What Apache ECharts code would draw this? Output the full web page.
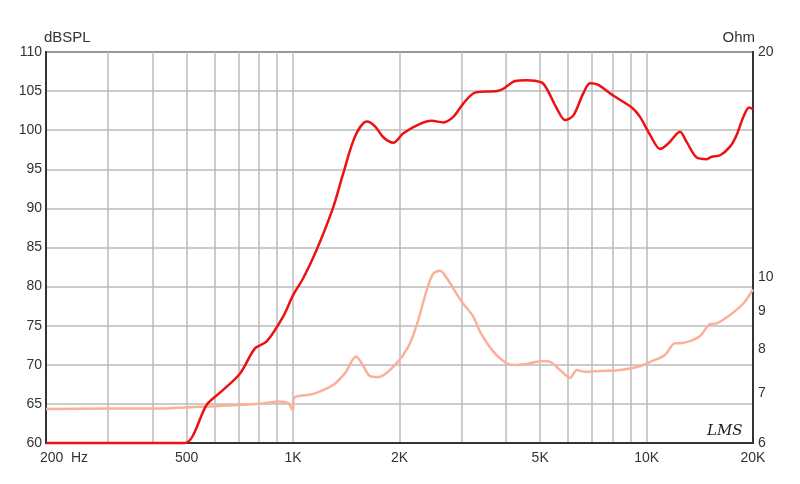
<!DOCTYPE html>
<html><head><meta charset="utf-8">
<script src="https://cdn.jsdelivr.net/npm/echarts@6/dist/echarts.min.js"></script>
<style>html,body{margin:0;padding:0;background:#fff}#c{width:800px;height:484px}</style>
</head><body><div id="c"></div>
<script>
// Frequency response (dBSPL) — [Hz, dB]
const splData = [
 [200,60],[300,60],[400,60],[494,60],[570,64.9],[620,66.4],[708,68.9],[780,72.1],[842,73.0],
 [938,76.2],[1000,78.9],[1069,81.1],[1166,84.7],[1300,90.2],[1387,94.5],[1497,99.2],[1616,101.1],
 [1705,100.5],[1800,99.1],[1920,98.4],[2050,99.6],[2286,100.8],[2468,101.2],[2660,101.0],[2840,101.7],
 [3030,103.4],[3270,104.8],[3770,105.0],[3930,105.3],[4250,106.3],[4580,106.4],[5050,106.1],[5220,105.3],
 [5570,102.8],[5880,101.3],[6210,101.9],[6620,104.7],[6920,106.0],[7300,105.8],[8060,104.4],[9080,102.9],
 [9580,101.7],[10230,99.4],[10920,97.6],[11520,98.3],[12430,99.8],[12980,98.5],[13860,96.5],[14790,96.3],
 [15280,96.6],[16140,96.8],[17220,97.9],[17980,99.4],[18780,101.7],[19510,102.9],[20000,102.7]
];
// Impedance (Ohm) — [Hz, Ohm]
const impData = [
 [200,6.66],[300,6.67],[450,6.68],[600,6.72],[800,6.77],[918,6.82],[970,6.78],[998,6.64],[1005,6.89],
 [1141,6.98],[1300,7.18],[1402,7.44],[1507,7.83],[1564,7.67],[1651,7.37],[1742,7.35],[1942,7.63],
 [2118,8.07],[2238,8.63],[2388,9.61],[2493,10.11],[2604,10.2],[2720,9.97],[3000,9.27],[3236,8.85],
 [3380,8.45],[3686,7.95],[4021,7.67],[4292,7.63],[4580,7.65],[4995,7.72],[5260,7.72],[5763,7.47],
 [6070,7.33],[6354,7.51],[6694,7.47],[7380,7.49],[8410,7.51],[9580,7.6],[10230,7.7],[11270,7.87],
 [12030,8.16],[12430,8.16],[13260,8.21],[14160,8.34],[15120,8.65],[15780,8.67],[17220,8.9],[18780,9.22],[20000,9.63]
];
const freqGrid = [200,300,400,500,600,700,800,900,1000,2000,3000,4000,5000,6000,7000,8000,9000,10000,20000];
const freqLabels = [200,500,1000,2000,5000,10000,20000];
const splTicks = [60,65,70,75,80,85,90,95,100,105,110];
const ohmLabels = [6,7,8,9,10,20];

const font = 'Liberation Sans';
const chart = echarts.init(document.getElementById('c'));
chart.setOption({
  animation:false,
  backgroundColor:'#fff',
  grid:{left:46,right:47,top:52,bottom:41,show:true,borderColor:'#333',borderWidth:2,backgroundColor:'transparent'},
  xAxis:{
    type:'log',min:200,max:20000,logBase:10,
    axisLine:{show:true,lineStyle:{color:'#333',width:2}},
    axisTick:{show:false,customValues:freqGrid},
    splitLine:{show:true,lineStyle:{color:'#bbbbbb',width:1.5}},
    axisLabel:{
      customValues:freqLabels,margin:8,color:'#333',fontFamily:font,fontSize:14,
      formatter:function(v){v=Math.round(v);if(v===200)return '{h|200  Hz}';return v>=1000?(v/1000)+'K':String(v);},
      rich:{h:{padding:[0,0,0,36],fontFamily:font,fontSize:14,color:'#333'}}
    }
  },
  yAxis:[{
    type:'value',min:60,max:110,interval:5,position:'left',
    name:'dBSPL',nameLocation:'end',nameGap:4,
    nameTextStyle:{color:'#333',fontFamily:font,fontSize:15,align:'left',padding:[0,0,0,-2]},
    axisLine:{show:true,lineStyle:{color:'#333',width:2}},
    axisTick:{show:false},
    splitLine:{show:true,lineStyle:{color:'#bbbbbb',width:1.5}},
    axisLabel:{color:'#333',fontFamily:font,fontSize:14,margin:4,
      formatter:function(v){return splTicks.indexOf(v)>=0?String(v):'';}}
  },{
    type:'log',min:6,max:20,logBase:10,position:'right',
    name:'Ohm',nameLocation:'end',nameGap:4,
    nameTextStyle:{color:'#333',fontFamily:font,fontSize:15,align:'right',padding:[0,-2,0,0]},
    axisLine:{show:true,lineStyle:{color:'#333',width:2}},
    axisTick:{show:false,customValues:ohmLabels},
    splitLine:{show:false},
    axisLabel:{customValues:ohmLabels,color:'#333',fontFamily:font,fontSize:14,margin:5,
      formatter:function(v){return String(Math.round(v));}}
  }],
  series:[{
    type:'line',name:'SPL',data:splData,xAxisIndex:0,yAxisIndex:0,smooth:0.3,symbol:'none',
    lineStyle:{color:'#ee1111',width:2.5},z:3,clip:false
  },{
    type:'line',name:'Impedance',data:impData,xAxisIndex:0,yAxisIndex:1,smooth:0.3,symbol:'none',
    lineStyle:{color:'#fbb09a',width:2.5},z:2
  }],
  graphic:[{type:'text',left:707,top:424,style:{text:'LMS',fontFamily:'DejaVu Serif',fontStyle:'italic',fontSize:15,fill:'#222'}}]
});
</script></body></html>
